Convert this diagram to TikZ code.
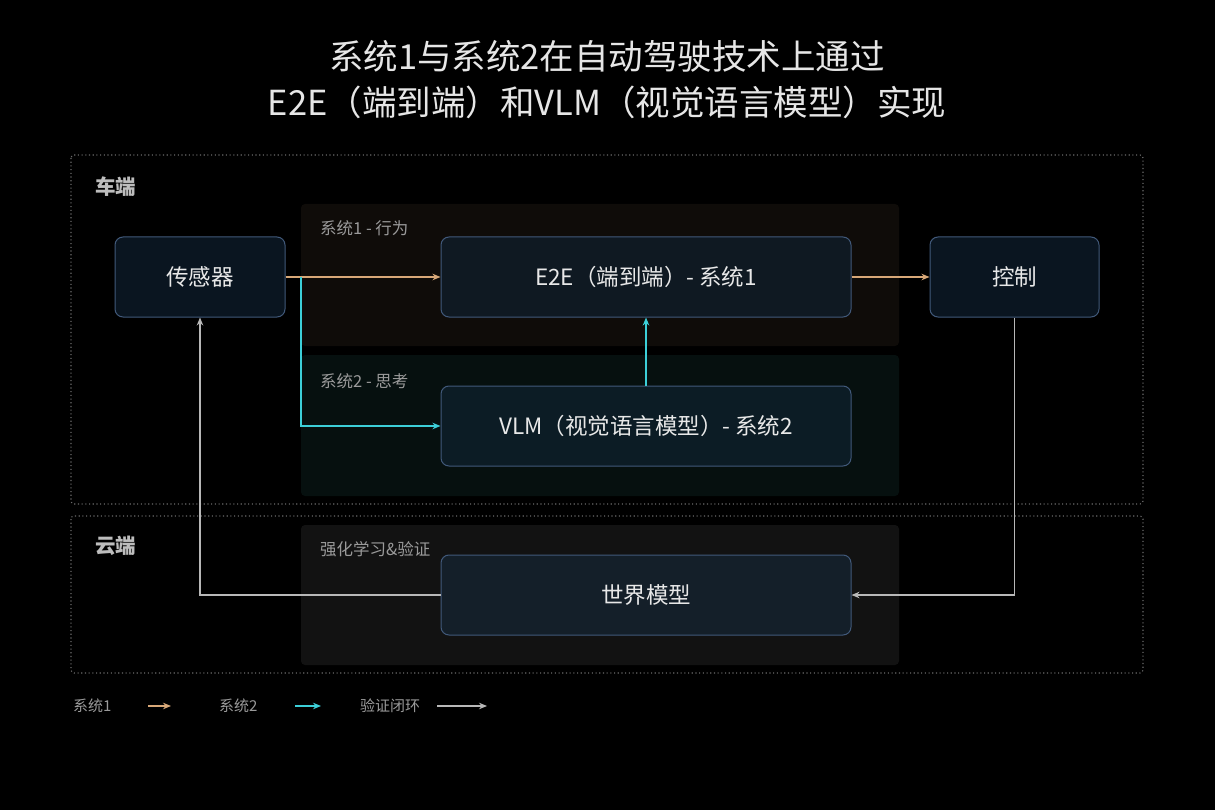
\documentclass[tikz,border=0pt]{standalone}
\usepackage{fontspec}
\setmainfont{Noto Sans CJK SC}
\usetikzlibrary{arrows.meta}
\definecolor{bgc}{HTML}{000000}
\definecolor{titlec}{HTML}{E6E6E6}
\definecolor{regionc}{HTML}{BDBDBD}
\definecolor{panellab}{HTML}{9A9A9A}
\definecolor{nodetext}{HTML}{E8E8E8}
\definecolor{nodeborder}{HTML}{41597A}
\definecolor{fillsensor}{HTML}{0A1520}
\definecolor{fille}{HTML}{0F1922}
\definecolor{fillvlm}{HTML}{0C1C25}
\definecolor{fillworld}{HTML}{141F29}
\definecolor{panelone}{HTML}{0F0C09}
\definecolor{paneltwo}{HTML}{06100F}
\definecolor{panelrl}{HTML}{121212}
\definecolor{dotc}{HTML}{6A6A6A}
\definecolor{orangec}{HTML}{D8A878}
\definecolor{cyanc}{HTML}{3CCFD8}
\definecolor{grayc}{HTML}{B8B8B8}
\tikzset{
  region/.style={draw=dotc, line width=1.1pt, dash pattern=on 1.1pt off 2.6pt, rounded corners=3pt},
  panel/.style={rounded corners=4pt},
  regionlabel/.style={anchor=west, text=regionc, font=\bfseries\fontsize{20.5}{22}\selectfont, inner sep=0pt},
  panellabel/.style={anchor=west, text=panellab, font=\fontsize{16.5}{18}\selectfont, inner sep=0pt},
  box/.style={draw=nodeborder, line width=1pt, rounded corners=8pt, minimum height=80pt, text=nodetext, font=\fontsize{22.5}{26}\selectfont, inner sep=0pt},
  arr/.style={line width=1.5pt, -{Stealth[length=8pt,width=6.5pt]}},
  orangearr/.style={arr, draw=orangec},
  cyanarr/.style={arr, draw=cyanc},
  grayarr/.style={arr, draw=grayc},
  legend/.style={anchor=west, text=panellab, font=\fontsize{15}{17}\selectfont, inner sep=0pt},
  titlestyle/.style={text=titlec, font=\fontsize{34.5}{46}\selectfont, align=center, inner sep=0pt}
}
\begin{document}
\begin{tikzpicture}[x=1pt,y=-1pt]
\useasboundingbox[fill=bgc] (0,0) rectangle (1215,810);

% title
\node[titlestyle] (title) at (607,80) {系统1与系统2在自动驾驶技术上通过\\E2E（端到端）和VLM（视觉语言模型）实现};

% regions
\draw[region] (71,155) rectangle (1143,504);
\draw[region] (71,516) rectangle (1143,673);
\node[regionlabel] (carlab) at (95,187) {车端};
\node[regionlabel] (cloudlab) at (95,546) {云端};

% panels
\fill[panel, panelone] (301,204) rectangle (899,346);
\fill[panel, paneltwo] (301,355) rectangle (899,496);
\fill[panel, panelrl] (301,525) rectangle (899,665);
\node[panellabel] (p1lab) at (320,228) {系统1 - 行为};
\node[panellabel] (p2lab) at (320,381) {系统2 - 思考};
\node[panellabel] (p3lab) at (320,549) {强化学习\&验证};

% nodes
\node[box, fill=fillsensor, minimum width=170pt] (sensor) at (200,277) {传感器};
\node[box, fill=fille, minimum width=410pt] (e2e) at (646,277) {E2E（端到端）- 系统1};
\node[box, fill=fillsensor, minimum width=169pt] (ctrl) at (1014.5,277) {控制};
\node[box, fill=fillvlm, minimum width=410pt] (vlm) at (646,426) {VLM（视觉语言模型）- 系统2};
\node[box, fill=fillworld, minimum width=410pt] (world) at (646,595) {世界模型};

% connectors
\coordinate (split) at (301,277);
\draw[orangearr] (sensor.east) -- (e2e.west);
\draw[cyanarr] (split) |- (vlm.west);
\draw[cyanarr] (vlm.north) -- (e2e.south);
\draw[orangearr] (e2e.east) -- (ctrl.west);
\draw[grayarr] (ctrl.south) |- (world.east);
\draw[grayarr] (world.west) -| (sensor.south);

% legend
\node[legend] (l1) at (73,706) {系统1};
\coordinate (l1a) at (148,706); \coordinate (l1b) at (171,706);
\draw[orangearr, line width=1.3pt] (l1a) -- (l1b);
\node[legend] (l2) at (219,706) {系统2};
\coordinate (l2a) at (295,706); \coordinate (l2b) at (321,706);
\draw[cyanarr, line width=1.3pt] (l2a) -- (l2b);
\node[legend] (l3) at (360,706) {验证闭环};
\coordinate (l3a) at (437,706); \coordinate (l3b) at (487,706);
\draw[grayarr, line width=1.3pt] (l3a) -- (l3b);
\end{tikzpicture}
\end{document}
